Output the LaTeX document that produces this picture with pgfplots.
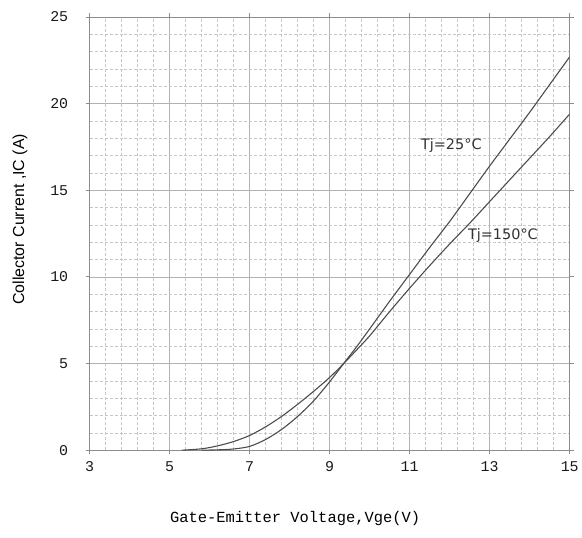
\documentclass[border=0pt]{standalone}
\usepackage{fontspec}
\usepackage{pgfplots}
\pgfplotsset{compat=1.18}
\newfontfamily\monof{Liberation Mono}
\newfontfamily\sansf{Liberation Sans}
\newfontfamily\dejavu{DejaVu Sans}
\begin{document}
\begin{tikzpicture}
\begin{axis}[
  scale only axis, width=482pt, height=435pt,
  xmin=3, xmax=15, ymin=0, ymax=25,
  xtick={3,5,...,15}, ytick={0,5,...,25},
  minor x tick num=4, minor y tick num=4,
  grid=both,
  major grid style={solid, color=black!30, line width=0.7pt},
  minor grid style={dash pattern=on 3pt off 2pt, color=black!22, line width=0.6pt},
  axis line style={black!45, line width=0.8pt},
  tick style={black!45, line width=0.8pt},
  tick align=outside, major tick length=4pt, minor tick length=0pt,
  /pgf/number format/assume math mode=true,
  ticklabel style={font=\monof\fontsize{15}{15}\selectfont, text=black!90},
  xticklabel style={yshift=-4pt},
  yticklabel style={xshift=-14pt},
  xlabel={Gate-Emitter Voltage,Vge(V)},
  xlabel style={font=\monof\fontsize{15.5}{16}\selectfont, at={(axis description cs:0.428,0)}, anchor=center, yshift=-69pt},
  ylabel={Collector Current ,IC (A)},
  ylabel style={font=\sansf\fontsize{16}{16}\selectfont, at={(axis description cs:-0.145,0.533)}, anchor=center},
]
\addplot[black!70, line width=1.1pt, smooth] table {
x y
5.8 0
6.2 0.02
6.6 0.07
7.0 0.22
7.4 0.62
7.8 1.2
8.2 1.95
8.6 2.85
9.0 3.95
9.35 5.0
9.7 6.05
10 7.0
10.5 8.6
11 10.15
11.5 11.7
12 13.2
12.5 14.8
13 16.4
13.5 17.95
14 19.5
14.5 21.1
15 22.7
};
\addplot[black!70, line width=1.1pt, smooth] table {
x y
5.3 0
5.8 0.08
6.2 0.25
6.6 0.5
7.0 0.85
7.4 1.35
7.8 1.95
8.2 2.65
8.6 3.4
9.0 4.2
9.35 5.0
9.7 5.85
10 6.6
10.5 8.0
11 9.35
11.5 10.65
12 11.9
12.5 13.1
13 14.35
13.5 15.6
14 16.85
14.5 18.1
15 19.4
};
\node[font=\dejavu\fontsize{14.5}{14.5}\selectfont, text=black!80] at (axis cs:12.04,17.6) {Tj=25°C};
\node[font=\dejavu\fontsize{14.5}{14.5}\selectfont, text=black!80] at (axis cs:13.33,12.4) {Tj=150°C};
\end{axis}
\path (current axis.south west) ++(-90pt,-88pt);
\path (current axis.north east) ++(10pt,17pt);
\end{tikzpicture}
\end{document}
